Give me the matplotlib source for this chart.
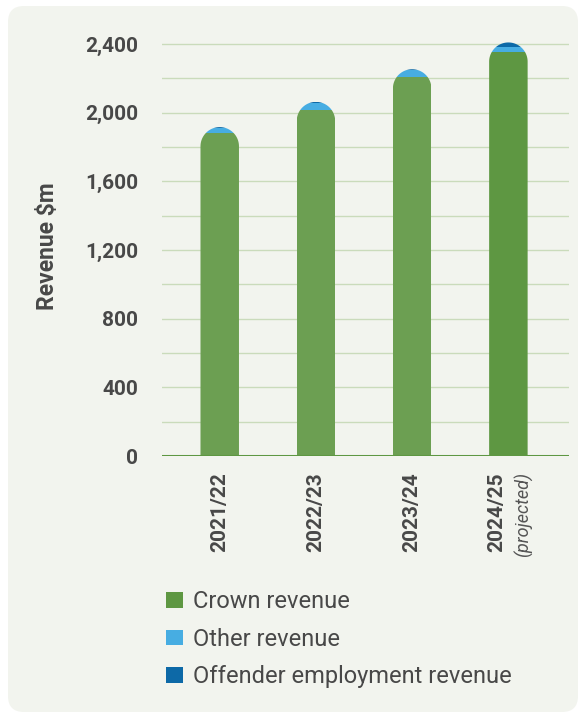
import numpy as np
import matplotlib
matplotlib.use("Agg")
import matplotlib.pyplot as plt
from matplotlib.patches import Patch, FancyBboxPatch
from matplotlib.path import Path
import matplotlib.transforms as mtransforms

plt.rcParams["font.family"] = ["Roboto", "DejaVu Sans"]

# data ($m)
years = ["2021/22", "2022/23", "2023/24", "2024/25"]
projected_note = "(projected)"
crown_revenue = [1880, 2015, 2207, 2355]
other_revenue = [30, 42, 40, 28]
offender_revenue = [6, 6, 6, 26]
yticks = [0, 400, 800, 1200, 1600, 2000, 2400]

crown_colors = ["#6c9f52", "#6c9f52", "#6c9f52", "#5e9742"]
other_color = "#47ade2"
offender_color = "#0d69a7"
card_color = "#f2f4ee"
text_color = "#484848"

W, H = 585, 713
fig = plt.figure(figsize=(W / 100, H / 100), dpi=100)
fig.patch.set_facecolor("white")

# rounded background card
card = FancyBboxPatch((0.08, 0.01), 5.70, 7.06,
                      boxstyle="round,pad=0,rounding_size=0.16",
                      transform=fig.dpi_scale_trans,
                      facecolor=card_color, edgecolor="none", zorder=-10)
fig.add_artist(card)

ymax = 2440
px_per_unit = (456 - 44) / 2400.0
top_px = 456 - ymax * px_per_unit
ax = fig.add_axes([162 / W, (H - 456) / H, (569 - 162) / W, (456 - top_px) / H])
ax.set_facecolor("none")

x = np.arange(len(years))
width = 0.4
ax.set_xlim(-0.6, 3.63)
ax.set_ylim(0, ymax)

crown = np.array(crown_revenue)
other = np.array(other_revenue)
offender = np.array(offender_revenue)

b1 = ax.bar(x, crown, width, color=crown_colors, zorder=3)
b2 = ax.bar(x, other, width, bottom=crown, color=other_color, zorder=3)
b3 = ax.bar(x, offender, width, bottom=crown + other, color=offender_color, zorder=3)

# rounded top for each stacked bar
ax_w_px = (569 - 162)
x_px_per_unit = ax_w_px / (3.63 + 0.6)
rx = width / 2
ry = rx * x_px_per_unit / px_per_unit
totals = crown + other + offender
for i, tot in enumerate(totals):
    x0, x1 = x[i] - rx, x[i] + rx
    theta = np.linspace(np.pi, 0, 60)
    arc = np.column_stack([x[i] + rx * np.cos(theta), tot - ry + ry * np.sin(theta)])
    verts = np.vstack([[x0, -50], [x0, tot - ry], arc, [x1, tot - ry], [x1, -50], [x0, -50]])
    codes = [Path.MOVETO] + [Path.LINETO] * (len(verts) - 2) + [Path.CLOSEPOLY]
    clip = Path(verts, codes)
    for bars in (b1, b2, b3):
        bars[i].set_clip_path(clip, ax.transData)

# grid
for v in range(200, 2401, 200):
    ax.axhline(v, color="#cadbbb", lw=1.0, zorder=1)
ax.axhline(0, color="#5e9742", lw=2.2, zorder=4)

for s in ax.spines.values():
    s.set_visible(False)

ax.set_yticks(yticks)
ax.set_yticklabels(["{:,}".format(v) for v in yticks], fontsize=15, fontweight="bold", color=text_color)
ax.tick_params(axis="y", length=0, pad=17)
ax.set_xticks([])
ax.set_ylabel("Revenue $m", fontsize=16.5, fontweight="bold", color=text_color, labelpad=19)

# category labels
trans = ax.get_xaxis_transform() + mtransforms.ScaledTranslation(0, -16 / 100, fig.dpi_scale_trans)
for i, year in enumerate(years):
    dx = -0.125 if i == len(years) - 1 else 0
    ax.text(x[i] + dx, 0, year, transform=trans, rotation=90, ha="center", va="top",
            fontsize=15, fontweight="bold", color=text_color)
ax.text(x[-1] + 0.155, 0, projected_note, transform=trans, rotation=90, ha="center", va="top",
        fontsize=13, style="italic", color="#555555")

handles = [Patch(facecolor=crown_colors[-1], edgecolor="none", label="Crown revenue"),
           Patch(facecolor=other_color, edgecolor="none", label="Other revenue"),
           Patch(facecolor=offender_color, edgecolor="none", label="Offender employment revenue")]
leg = fig.legend(handles=handles, loc="upper left", bbox_to_anchor=(166 / W, 1 - 590 / H),
                 frameon=False, fontsize=17, handlelength=0.72, handleheight=0.64,
                 handletextpad=0.42, labelspacing=0.62, borderpad=0, borderaxespad=0)
for t in leg.get_texts():
    t.set_color(text_color)

fig.savefig("out.png", dpi=100, facecolor="white")
